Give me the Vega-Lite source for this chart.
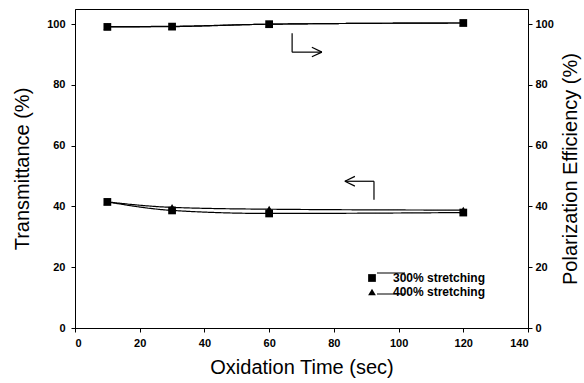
{
  "$schema": "https://vega.github.io/schema/vega-lite/v6.json",
  "width": 453,
  "height": 319,
  "autosize": {"type": "none"},
  "padding": {"left": 75, "top": 9, "right": 56, "bottom": 55},
  "background": "white",
  "config": {
    "font": "Liberation Sans",
    "view": {"stroke": "black", "strokeWidth": 1},
    "axis": {
      "grid": false,
      "domainColor": "black",
      "tickColor": "black",
      "tickSize": 4,
      "labelFont": "Liberation Sans",
      "labelFontWeight": "bold",
      "labelFontSize": 11,
      "labelColor": "black",
      "titleFont": "Liberation Sans",
      "titleFontWeight": "normal",
      "titleFontSize": 20,
      "titleColor": "black"
    }
  },
  "datasets": {
    "measurements": [
      {"time": 10, "series": "300% stretching", "T": 41.5, "PE": 99.1},
      {"time": 30, "series": "300% stretching", "T": 38.7, "PE": 99.2},
      {"time": 60, "series": "300% stretching", "T": 37.7, "PE": 100.0},
      {"time": 120, "series": "300% stretching", "T": 38.0, "PE": 100.4},
      {"time": 10, "series": "400% stretching", "T": 41.5, "PE": 99.2},
      {"time": 30, "series": "400% stretching", "T": 39.7, "PE": 99.3},
      {"time": 60, "series": "400% stretching", "T": 39.1, "PE": 100.0},
      {"time": 120, "series": "400% stretching", "T": 38.8, "PE": 100.4}
    ],
    "arrows": [
      {"x": 67.1, "y": 97.0, "x2": 67.1, "y2": 90.8},
      {"x": 67.1, "y": 90.8, "x2": 76.3, "y2": 90.8},
      {"x": 76.3, "y": 90.8, "x2": 73.2, "y2": 92.4},
      {"x": 76.3, "y": 90.8, "x2": 73.2, "y2": 89.3},
      {"x": 92.4, "y": 42.2, "x2": 92.4, "y2": 48.3},
      {"x": 92.4, "y": 48.3, "x2": 83.4, "y2": 48.3},
      {"x": 83.4, "y": 48.3, "x2": 86.5, "y2": 49.9},
      {"x": 83.4, "y": 48.3, "x2": 86.5, "y2": 46.7}
    ]
  },
  "layer": [
    {
      "data": {"name": "measurements"},
      "encoding": {
        "x": {"field": "time", "type": "quantitative", "scale": {"domain": [0, 140], "nice": false},
              "axis": {"values": [0, 20, 40, 60, 80, 100, 120, 140], "title": "Oxidation Time (sec)", "labelPadding": 5, "titlePadding": 9}},
        "y": {"field": "T", "type": "quantitative", "scale": {"domain": [0, 105], "nice": false},
              "axis": {"orient": "left", "values": [0, 20, 40, 60, 80, 100], "title": "Transmittance (%)", "labelPadding": 6, "titlePadding": 14}}
      },
      "layer": [
        {"mark": {"type": "line", "color": "black", "strokeWidth": 1.2, "interpolate": "monotone"},
         "encoding": {"strokeDash": {"field": "series", "type": "nominal",
           "scale": {"domain": ["400% stretching", "300% stretching"], "range": [[1, 0], [1, 0]]},
           "legend": {"orient": "none", "legendX": 301, "legendY": 249, "title": null, "padding": 0,
             "symbolType": "stroke", "symbolSize": 784, "symbolStrokeWidth": 1.2, "symbolStrokeColor": "black",
             "labelFontSize": 12, "labelExpr": "''", "labelOffset": 0, "rowPadding": -14}}}},
        {"mark": {"type": "point", "filled": true, "color": "black", "opacity": 1, "size": 60},
         "encoding": {"shape": {"field": "series", "type": "nominal",
           "scale": {"domain": ["300% stretching", "400% stretching"], "range": ["square", "triangle-up"]},
           "legend": {"orient": "none", "legendX": 291, "legendY": 263, "title": null, "padding": 0,
             "labelFont": "Liberation Sans", "labelFontWeight": "bold", "labelFontSize": 12, "labelColor": "black",
             "labelOffset": 15, "rowPadding": 2, "symbolSize": 60, "symbolFillColor": "black", "symbolStrokeWidth": 0, "symbolOpacity": 1}}}}
      ]
    },
    {
      "data": {"name": "measurements"},
      "encoding": {
        "x": {"field": "time", "type": "quantitative", "scale": {"domain": [0, 140], "nice": false}},
        "y": {"field": "PE", "type": "quantitative", "scale": {"domain": [0, 105], "nice": false},
              "axis": {"orient": "right", "values": [0, 20, 40, 60, 80, 100], "title": "Polarization Efficiency (%)", "titleAngle": -90, "labelPadding": 3, "titlePadding": 27}}
      },
      "layer": [
        {"mark": {"type": "line", "color": "black", "strokeWidth": 1.2, "interpolate": "monotone"},
         "encoding": {"strokeDash": {"field": "series", "type": "nominal",
           "scale": {"domain": ["400% stretching", "300% stretching"], "range": [[1, 0], [1, 0]]},
           "legend": {"orient": "none", "legendX": 301, "legendY": 249, "title": null, "padding": 0,
             "symbolType": "stroke", "symbolSize": 784, "symbolStrokeWidth": 1.2, "symbolStrokeColor": "black",
             "labelFontSize": 12, "labelExpr": "''", "labelOffset": 0, "rowPadding": -14}}}},
        {"mark": {"type": "point", "filled": true, "color": "black", "opacity": 1, "size": 60},
         "encoding": {"shape": {"field": "series", "type": "nominal",
           "scale": {"domain": ["300% stretching", "400% stretching"], "range": ["square", "triangle-up"]},
           "legend": {"orient": "none", "legendX": 291, "legendY": 263, "title": null, "padding": 0,
             "labelFont": "Liberation Sans", "labelFontWeight": "bold", "labelFontSize": 12, "labelColor": "black",
             "labelOffset": 15, "rowPadding": 2, "symbolSize": 60, "symbolFillColor": "black", "symbolStrokeWidth": 0, "symbolOpacity": 1}}}}
      ]
    },
    {
      "data": {"name": "arrows"},
      "mark": {"type": "rule", "color": "black", "strokeWidth": 1.2},
      "encoding": {
        "x": {"field": "x", "type": "quantitative", "scale": {"domain": [0, 140], "nice": false}},
        "y": {"field": "y", "type": "quantitative", "scale": {"domain": [0, 105], "nice": false}, "axis": null},
        "x2": {"field": "x2"},
        "y2": {"field": "y2"}
      }
    }
  ],
  "resolve": {"scale": {"y": "independent"}}
}
